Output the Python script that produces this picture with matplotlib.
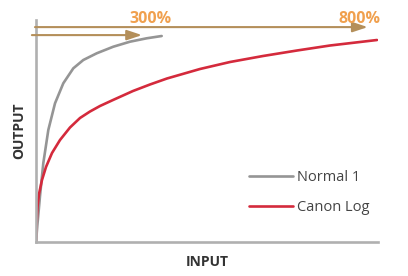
import matplotlib
matplotlib.use('Agg')
import matplotlib.pyplot as plt

# curves (input 0..100, output 0..100)
normal_x = [0, 0.38, 1.17, 2.13, 3.60, 5.56, 7.98, 10.91, 13.83, 17.75,
            22.60, 27.49, 32.37, 36.75]
normal_y = [0, 7.21, 20.72, 35.45, 50.45, 62.48, 71.49, 78.24, 81.98, 85.0,
            87.97, 90.23, 91.76, 92.79]
clog_x = [0, 0.15, 0.44, 0.88, 1.75, 2.92, 4.68, 7.02, 9.94, 12.87, 15.79,
          18.71, 22.51, 28.36, 33.33, 38.30, 47.95, 56.73, 66.37, 76.32,
          85.96, 99.71]
clog_y = [0, 7.66, 15.77, 21.62, 27.93, 33.78, 40.09, 45.95, 51.58, 55.86,
          58.78, 61.26, 63.96, 68.02, 70.95, 73.65, 77.93, 81.08, 83.78,
          86.26, 88.51, 90.99]
series = ['Normal 1', 'Canon Log']

# dynamic range arrows
ranges = ['300%', '800%']
range_start = [-1.2, -0.3]
range_end = [31, 97]
range_y = [93.2, 96.8]
label_x = [33.5, 94.5]

FONT = 'Open Sans'

fig = plt.figure(figsize=(4.08, 2.76), dpi=100)
ax = fig.add_axes([36 / 408, 34 / 276, 342 / 408, 222 / 276])
ax.set_xlim(0, 100)
ax.set_ylim(0, 100)

ax.plot(normal_x, normal_y, color='#959595', lw=1.9, label=series[0],
        solid_capstyle='round', solid_joinstyle='round')
ax.plot(clog_x, clog_y, color='#d42a3c', lw=1.9, label=series[1],
        solid_capstyle='round', solid_joinstyle='round')

for lab, x0, x1, y, lx in zip(ranges, range_start, range_end, range_y, label_x):
    ax.annotate('', xy=(x1, y), xytext=(x0, y), annotation_clip=False,
                arrowprops=dict(arrowstyle='-|>,head_length=0.9,head_width=0.3',
                                color='#b48f5a', lw=1.5, shrinkA=0, shrinkB=0))
    ax.text(lx, 100.5, lab, color='#f0a04e', fontsize=11.5, fontweight='bold',
            ha='center', va='center', family=FONT, clip_on=False)

for s in ['top', 'right']:
    ax.spines[s].set_visible(False)
for s in ['left', 'bottom']:
    ax.spines[s].set_color('#b0b0b0')
    ax.spines[s].set_linewidth(1.9)
ax.set_xticks([])
ax.set_yticks([])

ax.set_xlabel('INPUT', fontsize=10, fontweight='bold', color='#333333',
              family=FONT, labelpad=9)
ax.set_ylabel('OUTPUT', fontsize=10, fontweight='bold', color='#333333',
              family=FONT, labelpad=7)

leg = ax.legend(loc='upper left', bbox_to_anchor=(0.585, 0.385), frameon=False,
                handlelength=3.0, handletextpad=0.3, labelspacing=1.05,
                prop={'family': FONT, 'size': 10.5})
for t in leg.get_texts():
    t.set_color('#444444')

fig.savefig('out.png', dpi=100)
